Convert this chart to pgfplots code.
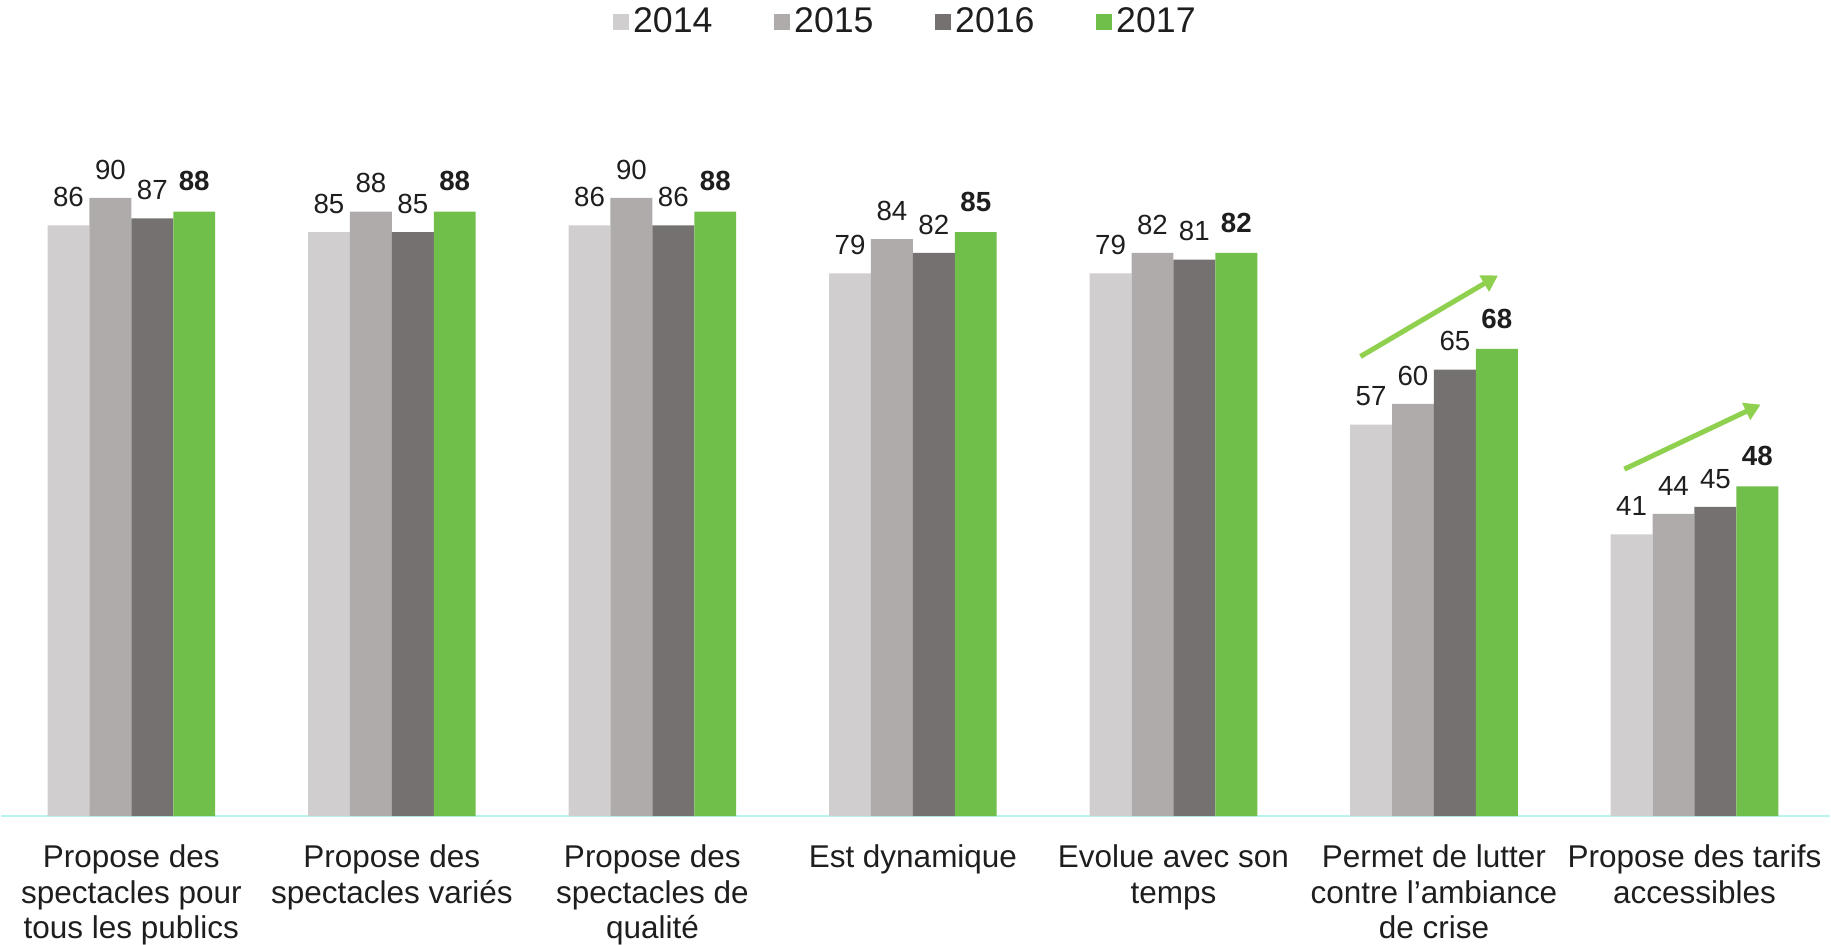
\documentclass[border=0pt]{standalone}
\usepackage{pgfplots}
\pgfplotsset{compat=1.18}
\usepackage{fontspec}
\setmainfont{Liberation Sans}
\usetikzlibrary{arrows.meta}

\definecolor{c14}{HTML}{D0CECF}
\definecolor{c15}{HTML}{AFABAA}
\definecolor{c16}{HTML}{767171}
\definecolor{c17}{HTML}{70BF4B}
\definecolor{arrowc}{HTML}{8FD14F}
\definecolor{baseln}{HTML}{B8F5EC}
\definecolor{txt}{HTML}{1E1E1E}

\pgfplotsset{
  sq/.style={legend image code/.code={\fill[##1] (0pt,-4pt) rectangle (8pt,4pt);}},
}

\begin{document}
\begin{tikzpicture}
\begin{axis}[
  ybar=0pt,
  bar width=20.9pt,
  scale only axis,
  width=911.9pt, height=342.5pt,
  xmin=-0.5, xmax=6.52,
  ymin=0, ymax=100,
  axis x line*=bottom,
  axis y line=none,
  x axis line style={draw=baseln, line width=1.1pt, -},
  xtick={0,...,6},
  xticklabels={
    {Propose des\\spectacles pour\\tous les publics},
    {Propose des\\spectacles variés},
    {Propose des\\spectacles de\\qualité},
    {Est dynamique},
    {Evolue avec son\\temps},
    {Permet de lutter\\contre l’ambiance\\de crise},
    {Propose des tarifs\\accessibles}},
  xtick style={draw=none},
  xticklabel style={align=center, text=txt, inner sep=0pt, yshift=-10pt,
    font=\fontsize{15.7}{17.6}\selectfont},
  ytick=\empty,
  nodes near coords,
  every node near coord/.append style={text=txt, inner sep=0pt, yshift=9pt,
    font=\fontsize{13.8}{16}\selectfont},
  /pgf/number format/assume math mode=true,
  legend columns=4,
  legend style={at={(0.495,1.156)}, anchor=center, draw=none, fill=none,
    font=\fontsize{17.8}{20}\selectfont, text=txt,
    /tikz/every even column/.append style={column sep=28.7pt}},
]
\addplot[fill=c14, draw=none, sq] coordinates {(0,86) (1,85) (2,86) (3,79) (4,79) (5,57) (6,41)};
\addlegendentry{2014}
\addplot[fill=c15, draw=none, sq] coordinates {(0,90) (1,88) (2,90) (3,84) (4,82) (5,60) (6,44)};
\addlegendentry{2015}
\addplot[fill=c16, draw=none, sq] coordinates {(0,87) (1,85) (2,86) (3,82) (4,81) (5,65) (6,45)};
\addlegendentry{2016}
\addplot[fill=c17, draw=none, sq,
  every node near coord/.append style={font=\fontsize{13.8}{16}\selectfont\bfseries, yshift=1pt}]
  coordinates {(0,88) (1,88) (2,88) (3,85) (4,82) (5,68) (6,48)};
\addlegendentry{2017}

% trend arrows
\draw[arrowc, line width=2.5pt, -{Triangle[length=8pt,width=9pt]}]
  (axis cs:4.718,66.9) -- (axis cs:5.246,78.7);
\draw[arrowc, line width=2.5pt, -{Triangle[length=8pt,width=9pt]}]
  (axis cs:5.731,50.5) -- (axis cs:6.254,59.9);
\path (rel axis cs:0,0) ++(-3.5pt,0pt);
\end{axis}
\end{tikzpicture}
\end{document}
